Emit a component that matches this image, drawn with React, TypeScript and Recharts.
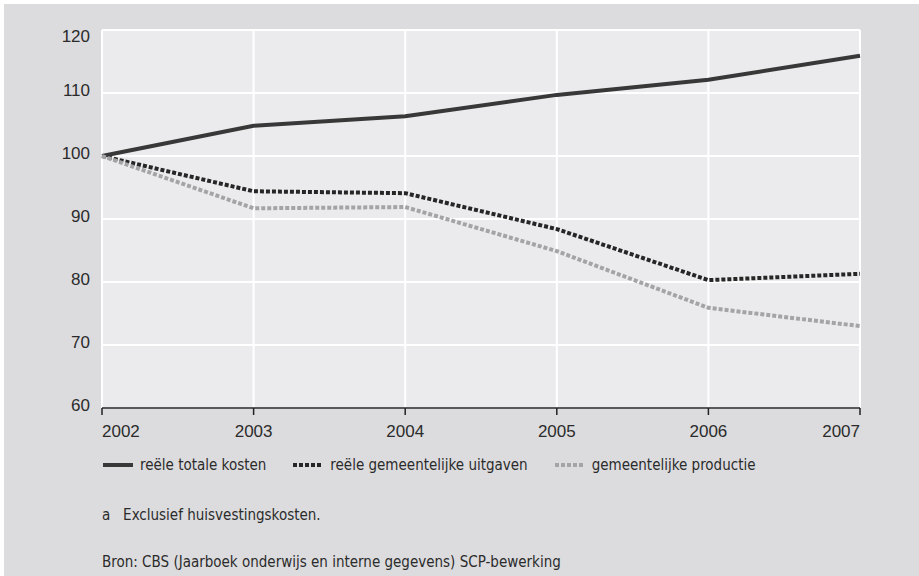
import { LineChart, Line, XAxis, YAxis, CartesianGrid } from "recharts";

const years = ["2002", "2003", "2004", "2005", "2006", "2007"];
const totaleKosten = [100, 104.8, 106.3, 109.7, 112.1, 115.9];
const gemeentelijkeUitgaven = [100, 94.4, 94.1, 88.4, 80.3, 81.3];
const gemeentelijkeProductie = [100, 91.7, 91.9, 84.9, 75.9, 73.0];
const yTicks = [60, 70, 80, 90, 100, 110, 120];

const series = [
  { key: "totaal", name: "reële totale kosten", color: "#383838", dash: undefined },
  { key: "uitgaven", name: "reële gemeentelijke uitgaven", color: "#262626", dash: "4 2" },
  { key: "productie", name: "gemeentelijke productie", color: "#a4a4a6", dash: "4 2" },
];

const data = years.map((year, i) => ({
  year,
  totaal: totaleKosten[i],
  uitgaven: gemeentelijkeUitgaven[i],
  productie: gemeentelijkeProductie[i],
}));

const tickFont = "'Liberation Sans', Arial, sans-serif";
const noteFont = "'Liberation Sans Narrow', 'DejaVu Sans Condensed', sans-serif";

function YearTick(props: any) {
  const { x, y, payload, index } = props;
  const anchor = index === 0 ? "start" : index === years.length - 1 ? "end" : "middle";
  return (
    <text x={x} y={y} dy={20} textAnchor={anchor} fill="#2b2b2b" fontSize={17} fontFamily={tickFont}>
      {payload.value}
    </text>
  );
}

function ValueTick(props: any) {
  const { x, y, payload } = props;
  // top label sits below its gridline, the rest just above
  const dy = payload.value === yTicks[yTicks.length - 1] ? 12 : 3;
  return (
    <text x={x} y={y} dy={dy} textAnchor="end" fill="#2b2b2b" fontSize={17} fontFamily={tickFont}>
      {payload.value}
    </text>
  );
}

export default function App() {
  return (
    <div
      style={{
        position: "absolute",
        left: 4,
        top: 4,
        width: 915,
        height: 572,
        background: "#dcdcde",
      }}
    >
      <LineChart width={915} height={440} data={data} margin={{ top: 26, right: 59, left: 0, bottom: 6 }}>
        <CartesianGrid fill="#ebebed" stroke="#ffffff" strokeWidth={2} />
        <XAxis
          dataKey="year"
          stroke="#222"
          strokeWidth={1.5}
          tickSize={7}
          height={30}
          tick={<YearTick />}
          interval={0}
        />
        <YAxis
          domain={[60, 120]}
          ticks={yTicks}
          axisLine={false}
          tickLine={false}
          width={98}
          tickSize={6}
          tickMargin={6}
          tick={<ValueTick />}
        />
        {series.map((s) => (
          <Line
            key={s.key}
            dataKey={s.key}
            name={s.name}
            stroke={s.color}
            strokeWidth={4}
            strokeDasharray={s.dash}
            dot={false}
            activeDot={false}
            isAnimationActive={false}
          />
        ))}
      </LineChart>
      <div
        style={{
          position: "absolute",
          left: 99,
          top: 452,
          display: "flex",
          alignItems: "center",
          gap: 27,
          fontFamily: noteFont,
          fontSize: 15,
          color: "#2b2b2b",
        }}
      >
        {series.map((s) => (
          <div key={s.key} style={{ display: "flex", alignItems: "center", gap: 7 }}>
            <svg width={30} height={6}>
              <line x1={0} y1={3} x2={30} y2={3} stroke={s.color} strokeWidth={4} strokeDasharray={s.dash} />
            </svg>
            <span>{s.name}</span>
          </div>
        ))}
      </div>
      <div style={{ position: "absolute", left: 98, top: 502, fontFamily: noteFont, fontSize: 15, color: "#2b2b2b" }}>
        a&nbsp;&nbsp;&nbsp;Exclusief huisvestingskosten.
      </div>
      <div style={{ position: "absolute", left: 98, top: 549, fontFamily: noteFont, fontSize: 15, color: "#2b2b2b" }}>
        Bron: CBS (Jaarboek onderwijs en interne gegevens) SCP-bewerking
      </div>
    </div>
  );
}
